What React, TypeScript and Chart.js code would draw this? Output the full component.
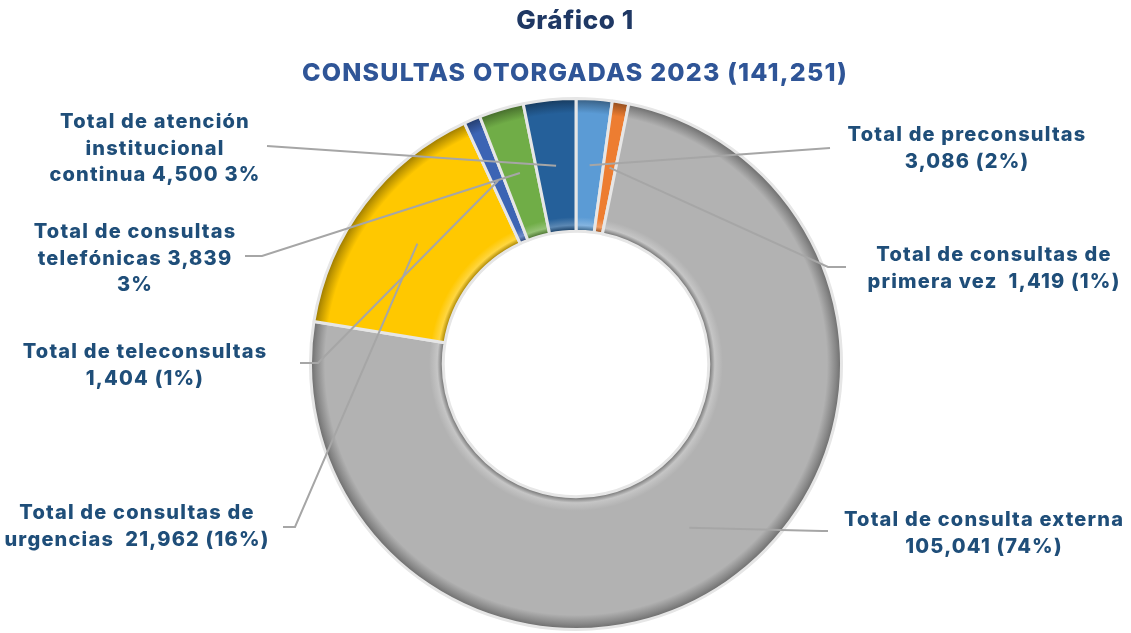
import React, { useEffect, useRef } from "react";
import { Chart, registerables } from "chart.js";

Chart.register(...registerables);

const chartTitle = "Gráfico 1";
const chartSubtitle = "CONSULTAS OTORGADAS 2023 (141,251)";

const categories = [
  "Total de preconsultas",
  "Total de consultas de primera vez",
  "Total de consulta externa",
  "Total de consultas de urgencias",
  "Total de teleconsultas",
  "Total de consultas telefónicas",
  "Total de atención institucional continua",
];

const values = [3086, 1419, 105041, 21962, 1404, 3839, 4500];

const labelTexts = [
  ["Total de preconsultas", "3,086 (2%)"],
  ["Total de consultas de", "primera vez  1,419 (1%)"],
  ["Total de consulta externa", "105,041 (74%)"],
  ["Total de consultas de", "urgencias  21,962 (16%)"],
  ["Total de teleconsultas", "1,404 (1%)"],
  ["Total de consultas", "telefónicas 3,839", "3%"],
  ["Total de atención", "institucional", "continua 4,500 3%"],
];

const sliceColors = ["#5B9BD5", "#ED7D31", "#B2B2B2", "#FFC800", "#3C64B4", "#70AD47", "#25609A"];

// label placement (text centre x, first line y) and leader start polylines
const labelPos = [
  { x: 967, y: 135 },
  { x: 994, y: 255 },
  { x: 984, y: 520 },
  { x: 137, y: 513 },
  { x: 145, y: 352 },
  { x: 135, y: 232 },
  { x: 155, y: 122 },
];
const leaderStarts: number[][][] = [
  [[830, 148]],
  [[846, 267], [828, 267]],
  [[828, 531], [822, 531]],
  [[283, 527], [295, 527]],
  [[300, 363], [318, 363]],
  [[245, 256], [262, 256]],
  [[267, 146]],
];

function shade(hex: string, amt: number) {
  const n = parseInt(hex.slice(1), 16);
  let r = (n >> 16) & 255, g = (n >> 8) & 255, b = n & 255;
  const f = (c: number) =>
    Math.round(amt >= 0 ? c + (255 - c) * amt : c * (1 + amt));
  r = f(r); g = f(g); b = f(b);
  return `rgb(${r},${g},${b})`;
}

export default function App() {
  const ref = useRef<HTMLCanvasElement>(null);
  useEffect(() => {
    if (!ref.current) return;
    const FONT = "Inter, 'Open Sans', sans-serif";

    const textPlugin = {
      id: "customText",
      afterDatasetsDraw(chart: any) {
        const ctx = chart.ctx;
        const meta = chart.getDatasetMeta(0);
        ctx.save();
        // leader lines
        ctx.strokeStyle = "#A6A6A6";
        ctx.lineWidth = 2;
        meta.data.forEach((arc: any, i: number) => {
          const p = arc.tooltipPosition();
          const pts = leaderStarts[i];
          ctx.beginPath();
          ctx.moveTo(pts[0][0], pts[0][1]);
          for (let k = 1; k < pts.length; k++) ctx.lineTo(pts[k][0], pts[k][1]);
          ctx.lineTo(p.x, p.y);
          ctx.stroke();
        });
        // titles
        ctx.textAlign = "center";
        ctx.textBaseline = "middle";
        ctx.fillStyle = "#1F3864";
        ctx.font = `800 26px ${FONT}`;
        (ctx as any).letterSpacing = "0.6px";
        ctx.fillText(chartTitle, 575, 21);
        ctx.fillStyle = "#2F5597";
        ctx.font = `800 25px ${FONT}`;
        (ctx as any).letterSpacing = "1.2px";
        ctx.fillText(chartSubtitle, 575, 73);
        // labels
        ctx.fillStyle = "#1F4E79";
        ctx.font = `800 20px ${FONT}`;
        (ctx as any).letterSpacing = "1.2px";
        labelTexts.forEach((lines, i) => {
          const pos = labelPos[i];
          lines.forEach((t, k) => ctx.fillText(t, pos.x, pos.y + k * 26.5));
        });
        ctx.restore();
      },
    };

    const chart = new Chart(ref.current, {
      type: "doughnut",
      data: {
        labels: categories,
        datasets: [
          {
            data: values,
            backgroundColor: (c: any) => {
              const chartObj = c.chart;
              const area = chartObj.chartArea;
              const base = sliceColors[c.dataIndex % sliceColors.length];
              if (!area) return base;
              const cx = (area.left + area.right) / 2;
              const cy = (area.top + area.bottom) / 2;
              const outer = Math.min(area.right - area.left, area.bottom - area.top) / 2;
              const inner = outer * 0.5;
              const g = chartObj.ctx.createRadialGradient(cx, cy, inner, cx, cy, outer);
              g.addColorStop(0, shade(base, -0.35));
              g.addColorStop(0.04, shade(base, 0.25));
              g.addColorStop(0.1, base);
              g.addColorStop(0.88, base);
              g.addColorStop(0.95, shade(base, -0.25));
              g.addColorStop(1, shade(base, -0.45));
              return g;
            },
            borderColor: "#E6E6E6",
            borderWidth: 3,
          },
        ],
      },
      options: {
        responsive: false,
        animation: false,
        cutout: "50%",
        layout: { padding: { top: 97, bottom: 2, left: 304, right: 283 } },
        plugins: {
          legend: { display: false },
          tooltip: { enabled: false },
          title: { display: false },
        },
      },
      plugins: [textPlugin],
    } as any);
    return () => chart.destroy();
  }, []);

  return (
    <div style={{ position: "absolute", left: 0, top: 0, width: 1131, height: 633, background: "#fff" }}>
      <canvas ref={ref} width={1131} height={633} style={{ width: 1131, height: 633 }} />
    </div>
  );
}
